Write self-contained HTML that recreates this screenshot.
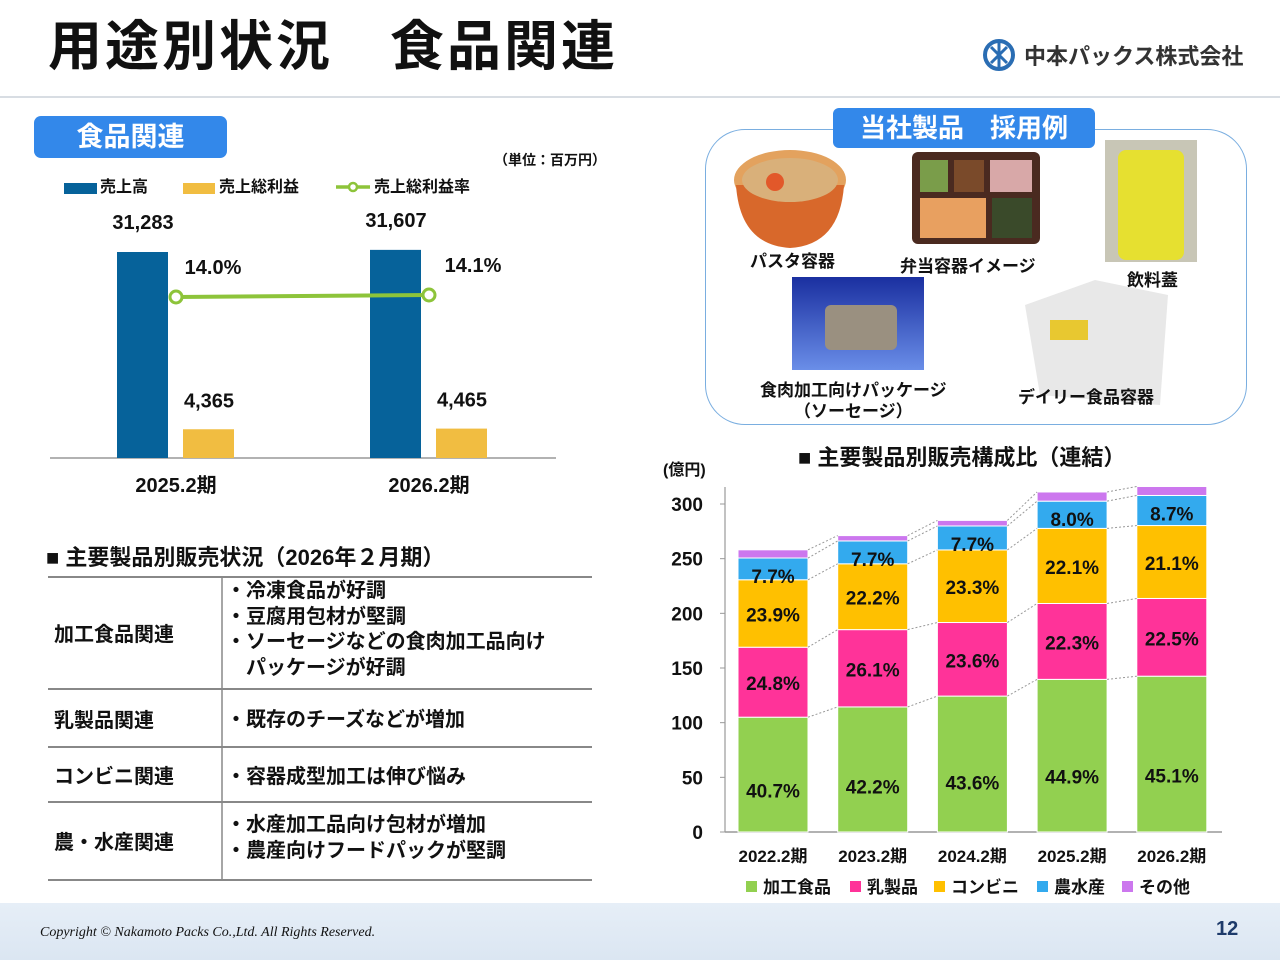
<!DOCTYPE html>
<html><head><meta charset="utf-8"><style>
*{margin:0;padding:0;box-sizing:border-box}
body{width:1280px;height:960px;background:#fff;position:relative;overflow:hidden;font-family:"Liberation Sans","Noto Sans CJK JP",sans-serif;font-weight:bold;color:#111}
.a{position:absolute;white-space:nowrap}
</style></head><body>
<div class="a" style="left:48px;top:12px;font-size:54px;line-height:70px;letter-spacing:3px">用途別状況　食品関連</div>
<div class="a" style="left:982px;top:38px;font-size:22px;color:#333;display:flex;align-items:center">
<svg width="34" height="34" viewBox="0 0 34 34" style="margin-right:8px"><circle cx="17" cy="17" r="14" fill="none" stroke="#2a6db3" stroke-width="4"/><path d="M9 9L25 25M25 9L9 25M17 5V29" stroke="#2a6db3" stroke-width="3"/></svg>中本パックス株式会社</div>
<div class="a" style="left:0;top:96px;width:1280px;height:2px;background:#d8dde3"></div>

<div class="a" style="left:34px;top:116px;width:193px;height:42px;background:#3388ea;border-radius:7px;color:#fff;font-size:27px;line-height:42px;text-align:center">食品関連</div>
<div class="a" style="left:494px;top:150px;font-size:14px">（単位：百万円）</div>

<svg class="a" style="left:0;top:0" width="640" height="510" id="lc"></svg>

<div class="a" style="left:46px;top:540px;font-size:22px">■ 主要製品別販売状況（2026年２月期）</div>
<svg class="a" style="left:0;top:0" width="640" height="900">
<g stroke="#888" stroke-width="2"><line x1="48" y1="577" x2="592" y2="577"/><line x1="48" y1="689" x2="592" y2="689"/><line x1="48" y1="747" x2="592" y2="747"/><line x1="48" y1="802" x2="592" y2="802"/><line x1="48" y1="880" x2="592" y2="880"/></g>
<line x1="222" y1="577" x2="222" y2="880" stroke="#888" stroke-width="1.5"/></svg>
<div class="a" style="left:54px;top:618px;font-size:20px">加工食品関連</div>
<div class="a" style="left:226px;top:579px;font-size:20px;line-height:25.5px">・冷凍食品が好調<br>・豆腐用包材が堅調<br>・ソーセージなどの食肉加工品向け<br>　パッケージが好調</div>
<div class="a" style="left:54px;top:704px;font-size:20px">乳製品関連</div>
<div class="a" style="left:226px;top:703px;font-size:20px">・既存のチーズなどが増加</div>
<div class="a" style="left:54px;top:760px;font-size:20px">コンビニ関連</div>
<div class="a" style="left:226px;top:760px;font-size:20px">・容器成型加工は伸び悩み</div>
<div class="a" style="left:54px;top:826px;font-size:20px">農・水産関連</div>
<div class="a" style="left:226px;top:812px;font-size:20px;line-height:26px">・水産加工品向け包材が増加<br>・農産向けフードパックが堅調</div>

<div class="a" style="left:705px;top:129px;width:542px;height:296px;border:1.5px solid #7aaee0;border-radius:40px"></div>
<div class="a" style="left:833px;top:108px;width:262px;height:40px;background:#3388ea;border-radius:6px;color:#fff;font-size:26px;line-height:40px;text-align:center">当社製品　採用例</div>
<svg class="a" style="left:700px;top:130px" width="560" height="290">
<defs><linearGradient id="bg1" x1="0" y1="0" x2="0" y2="1"><stop offset="0" stop-color="#1a2fa0"/><stop offset="1" stop-color="#6a8ee8"/></linearGradient></defs>
<ellipse cx="90" cy="50" rx="56" ry="30" fill="#e3a25e"/><path d="M36 55Q40 115 90 118Q140 115 144 55Z" fill="#d8682b"/><ellipse cx="90" cy="50" rx="48" ry="22" fill="#d9b07a"/><circle cx="75" cy="52" r="9" fill="#e2582a"/>
<rect x="212" y="22" width="128" height="92" rx="6" fill="#4a2a20"/><rect x="220" y="30" width="28" height="32" fill="#7a9d4a"/><rect x="254" y="30" width="30" height="32" fill="#7a4a2a"/><rect x="290" y="30" width="42" height="32" fill="#d8a8a8"/><rect x="220" y="68" width="66" height="40" fill="#e8a060"/><rect x="292" y="68" width="40" height="40" fill="#3a4a2a"/>
<rect x="405" y="10" width="92" height="122" fill="#c8c6b6"/><rect x="418" y="20" width="66" height="110" rx="8" fill="#e6e030"/>
<rect x="92" y="147" width="132" height="93" fill="url(#bg1)"/><rect x="125" y="175" width="72" height="45" rx="6" fill="#9a9080"/>
<path d="M325 175L395 150L468 165L460 275L340 265Z" fill="#e8e8e8"/><rect x="350" y="190" width="38" height="20" fill="#e8c830"/>
</svg>
<div class="a" style="left:750px;top:247px;font-size:17px">パスタ容器</div>
<div class="a" style="left:900px;top:252px;font-size:17px">弁当容器イメージ</div>
<div class="a" style="left:1127px;top:266px;font-size:17px">飲料蓋</div>
<div class="a" style="left:760px;top:380px;font-size:17px;line-height:21px;text-align:center">食肉加工向けパッケージ<br>（ソーセージ）</div>
<div class="a" style="left:1018px;top:383px;font-size:17px">デイリー食品容器</div>

<div class="a" style="left:798px;top:440px;font-size:22px">■ 主要製品別販売構成比（連結）</div>
<svg class="a" style="left:0;top:0" width="1280" height="910" id="sc"></svg>

<div class="a" style="left:0;top:903px;width:1280px;height:57px;background:linear-gradient(#e6eef7,#dbe6f2)"></div>
<div class="a" style="left:40px;top:925px;font-size:14px;font-family:'Liberation Serif',serif;font-style:italic;font-weight:normal">Copyright © Nakamoto Packs Co.,Ltd. All Rights Reserved.</div>
<div class="a" style="left:1216px;top:918px;font-size:20px;color:#1d3a6a">12</div>

<script>
const NS='http://www.w3.org/2000/svg';
const F='"Liberation Sans","Noto Sans CJK JP",sans-serif';
function mk(p,t,a){const e=document.createElementNS(NS,t);for(const k in a)e.setAttribute(k,a[k]);p.appendChild(e);return e;}
function tx(p,x,y,s,size,anchor,fill){const e=mk(p,'text',{x:x,y:y,'font-size':size,'font-weight':'bold','font-family':F,'text-anchor':anchor||'middle',fill:fill||'#111'});e.textContent=s;return e;}

const lcCats=['2025.2期','2026.2期'];
const lcSales=[31283,31607];
const lcProfit=[4365,4465];
const lcRate=[14.0,14.1];
(function(){
const g=document.getElementById('lc');
const base=458, k=206/31283;
const yV=v=>base-v*k;
const yR=r=>297-(r-14.0)*20;
const cx=i=>176+i*253;
mk(g,'line',{x1:50,y1:458,x2:556,y2:458,stroke:'#999','stroke-width':1.5});
let l=mk(g,'rect',{x:64,y:183,width:33,height:11,fill:'#06629a'});
tx(g,100,192,'売上高',16,'start');
l=mk(g,'rect',{x:183,y:183,width:32,height:11,fill:'#f1bd41'});
tx(g,219,192,'売上総利益',16,'start');
mk(g,'line',{x1:336,y1:187,x2:370,y2:187,stroke:'#8dc43a','stroke-width':3.5});
l=mk(g,'circle',{cx:353,cy:187,r:4,fill:'#fff',stroke:'#8dc43a','stroke-width':2.5});
tx(g,374,192,'売上総利益率',16,'start');
lcCats.forEach((c,i)=>{
 const x=cx(i);
 let b=mk(g,'rect',{x:x-59,y:yV(lcSales[i]),width:51,height:base-yV(lcSales[i]),fill:'#06629a'});
 
 b=mk(g,'rect',{x:x+7,y:yV(lcProfit[i]),width:51,height:base-yV(lcProfit[i]),fill:'#f1bd41'});
 
 tx(g,x-33,yV(lcSales[i])-23,lcSales[i].toLocaleString('en-US'),20);
 tx(g,x+33,yV(lcProfit[i])-22,lcProfit[i].toLocaleString('en-US'),20);
 tx(g,x,492,c,20);
});
const p=mk(g,'polyline',{points:lcRate.map((r,i)=>cx(i)+','+yR(r)).join(' '),fill:'none',stroke:'#8dc43a','stroke-width':4});

lcRate.forEach((r,i)=>{
 const c=mk(g,'circle',{cx:cx(i),cy:yR(r),r:6,fill:'#fff',stroke:'#8dc43a','stroke-width':3});
 
 tx(g,cx(i)+i*7+37,yR(r)-23,r.toFixed(1)+'%',20);
});
})();

const scCats=['2022.2期','2023.2期','2024.2期','2025.2期','2026.2期'];
const scProcessed=[105.0,114.4,124.3,139.6,142.5];
const scDairy=[64.0,70.7,67.3,69.4,71.1];
const scConv=[61.7,60.2,66.4,68.7,66.7];
const scAgri=[19.9,20.9,21.9,24.9,27.5];
const scOther=[7.5,4.9,5.1,8.4,8.2];
const scPctProcessed=['40.7%','42.2%','43.6%','44.9%','45.1%'];
const scPctDairy=['24.8%','26.1%','23.6%','22.3%','22.5%'];
const scPctConv=['23.9%','22.2%','23.3%','22.1%','21.1%'];
const scPctAgri=['7.7%','7.7%','7.7%','8.0%','8.7%'];
const scTicks=[0,50,100,150,200,250,300];
(function(){
const g=document.getElementById('sc');
const base=832,k=328/300;
const y=v=>base-v*k;
const x0=i=>738+i*99.7, bw=70;
mk(g,'line',{x1:725,y1:487,x2:725,y2:832,stroke:'#999','stroke-width':1.2});
mk(g,'line',{x1:725,y1:832,x2:1222,y2:832,stroke:'#999','stroke-width':1.5});
tx(g,663,475,'(億円)',16,'start');
scTicks.forEach(t=>{mk(g,'line',{x1:720,y1:y(t),x2:725,y2:y(t),stroke:'#999'});tx(g,703,y(t)+7,String(t),19,'end');});
const series=[scProcessed,scDairy,scConv,scAgri,scOther];
const cols=['#92d050','#ff3399','#ffc000','#33aaee','#cc77ee'];
const names=['processed','dairy','conv','agri','other'];
const pcts=[scPctProcessed,scPctDairy,scPctConv,scPctAgri,null];
const tops=[];
scCats.forEach((c,i)=>{
 let acc=0;tops[i]=[];
 series.forEach((s,j)=>{
  const v=s[i];
  const r=mk(g,'rect',{x:x0(i),y:y(acc+v),width:bw,height:v*k,fill:cols[j],stroke:'#fff','stroke-width':1});
  
  if(pcts[j]){const ty=j===3?y(acc+v)+25:(j===0?y(acc+v*0.37)+8:y(acc+v/2)+8);tx(g,x0(i)+bw/2,ty,pcts[j][i],19);}
  acc+=v;tops[i].push(acc);
 });
 tx(g,x0(i)+bw/2,862,c,17);
});
for(let i=0;i<scCats.length-1;i++){tops[i].forEach((t,j)=>{mk(g,'line',{x1:x0(i)+bw,y1:y(t),x2:x0(i+1),y2:y(tops[i+1][j]),stroke:'#999','stroke-width':1,'stroke-dasharray':'2,2'});});}
const lg=[['加工食品',746],['乳製品',850],['コンビニ',934],['農水産',1037],['その他',1122]];
lg.forEach((e,j)=>{const r=mk(g,'rect',{x:e[1],y:881,width:11,height:11,fill:cols[j]});tx(g,e[1]+17,893,e[0],17,'start');});
})();
</script>
</body></html>
